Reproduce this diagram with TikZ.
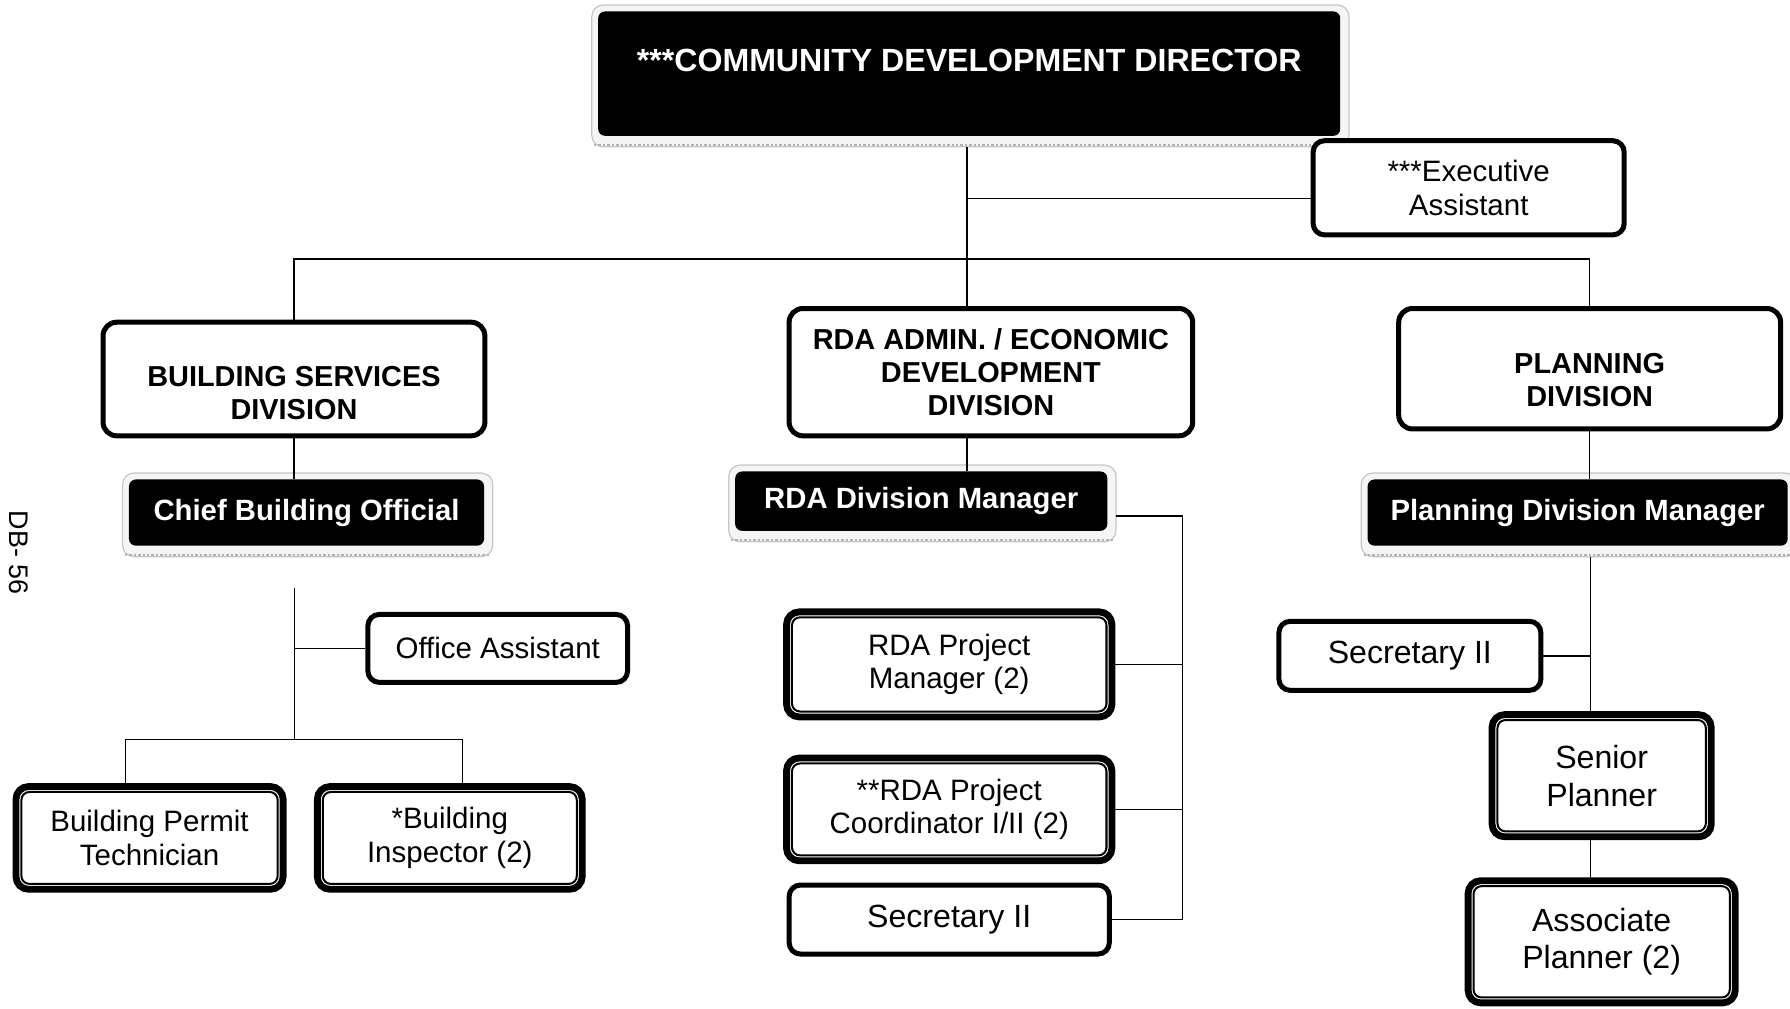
\documentclass[tikz,border=0pt]{standalone}
\usepackage{fontspec}
\setmainfont{Liberation Sans}
\usetikzlibrary{backgrounds}

\begin{document}
\begin{tikzpicture}[x=0.2mm,y=-0.2mm,line width=0.7pt,
  divbox/.style={draw,line width=2.5pt,rounded corners=2.4mm,fill=white,inner sep=0pt},
  divtext/.style={align=center,font=\fontsize{14.4}{16.3}\selectfont\bfseries},
  postbox/.style={draw,line width=2.5pt,rounded corners=2mm,fill=white,align=center,inner sep=0pt,font=\fontsize{14.7}{16.8}\selectfont},
  staffbox/.style={draw,line width=3.4pt,rounded corners=2.2mm,fill=white,align=center,inner sep=0pt,font=\fontsize{14.7}{16.8}\selectfont},
  bigtext/.style={font=\fontsize{16}{18.8}\selectfont},
  headbox/.style={fill=black,text=white,rounded corners=1.2mm,align=center,inner sep=0pt,font=\fontsize{14.6}{16}\selectfont\bfseries},
  headshade/.style={fill=gray!8,draw=gray!45,line width=0.6pt,rounded corners=2mm}]

\useasboundingbox (0,0) rectangle (1568,883);

\node[headbox,minimum width=130mm,minimum height=21.8mm,
  label={[text=white,font=\fontsize{16}{18}\selectfont\bfseries,yshift=2.3mm]center:***COMMUNITY DEVELOPMENT DIRECTOR}] (dir) at (849,64.5) {};
\node[postbox,minimum width=54.5mm,minimum height=16.5mm] (exec) at (1286.5,164.5) {***Executive\\Assistant};

\node[divbox,minimum width=66.9mm,minimum height=19.9mm,
  label={[divtext,yshift=-2.4mm]center:BUILDING SERVICES\\DIVISION}] (bsd) at (257.5,332) {};
\node[divbox,minimum width=70.7mm,minimum height=22.3mm,
  label={[divtext]center:RDA ADMIN. / ECONOMIC\\DEVELOPMENT\\DIVISION}] (rda) at (868,326) {};
\node[divbox,minimum width=66.9mm,minimum height=21.1mm,
  label={[divtext,yshift=-2mm]center:PLANNING\\DIVISION}] (pld) at (1392.5,323) {};

\node[headbox,minimum width=62.2mm,minimum height=11.6mm] (cbo) at (268.5,449) {Chief Building Official};
\node[headbox,minimum width=65.2mm,minimum height=10.4mm] (rdm) at (807,439) {RDA Division Manager};
\node[headbox,minimum width=73.6mm,minimum height=11.6mm] (pdm) at (1382,449) {Planning Division Manager};

\node[postbox,minimum width=45.5mm,minimum height=11.9mm] (ofa) at (436,568) {Office Assistant};
\node[staffbox,minimum width=46.8mm,minimum height=18mm] (bpt) at (131,734) {Building Permit\\Technician};
\node[staffbox,minimum width=46.4mm,minimum height=18mm] (bin) at (394,734) {*Building\\Inspector (2)};

\node[staffbox,minimum width=57mm,minimum height=18.4mm] (rpm) at (831.5,582) {RDA Project\\Manager (2)};
\node[staffbox,minimum width=57mm,minimum height=18mm] (rpc) at (831.5,709) {**RDA Project\\Coordinator I/II (2)};
\node[postbox,bigtext,minimum width=56.1mm,minimum height=12.1mm] (rsec) at (831.5,805.5) {Secretary II};

\node[postbox,bigtext,minimum width=45.9mm,minimum height=12.1mm] (psec) at (1235,574.5) {Secretary II};
\node[staffbox,bigtext,minimum width=38.4mm,minimum height=21.4mm] (spl) at (1403,679.5) {Senior\\Planner};
\node[staffbox,bigtext,minimum width=46.8mm,minimum height=21.4mm] (apl) at (1403,825) {Associate\\Planner (2)};

\node[rotate=-90,font=\fontsize{13.4}{15}\selectfont] (pg) at (16,484) {DB- 56};

\foreach \n in {bpt,bin,rpm,rpc,spl,apl}
  \draw[line width=1pt,rounded corners=1.4mm] ([shift={(4.4pt,-4.4pt)}]\n.north west) rectangle ([shift={(-4.4pt,4.4pt)}]\n.south east);

\begin{scope}[on background layer]
  \foreach \n in {dir,cbo,rdm,pdm} {
    \draw[headshade] ([shift={(-1mm,1mm)}]\n.north west) rectangle ([shift={(1.4mm,-1.8mm)}]\n.south east);
    \draw[gray!60,line width=1.2pt,densely dotted] ([shift={(-0.6mm,-1.5mm)}]\n.south west) -- ([shift={(1mm,-1.5mm)}]\n.south east);
  }
\end{scope}

\coordinate (spine) at (847,0);
\coordinate (bus) at (0,227);
\draw ([yshift=-1.8mm]dir.south -| spine) -- (rda.north -| spine);
\draw ([yshift=-1.9mm]exec.west) -- ([yshift=-1.9mm]exec.west -| spine);
\draw (bsd.north) -- (bsd.north |- bus) -- (pld.north |- bus) -- (pld.north);
\draw (bsd.south) -- (bsd.south |- cbo.north);
\draw (rda.south -| spine) -- (rdm.north -| spine);
\draw (pld.south) -- (pld.south |- pdm.north);

\coordinate (bstem) at (258,515);
\coordinate (bbus) at (258,648);
\draw (bstem) -- (bbus);
\draw (ofa.west) -- (ofa.west -| bbus);
\draw ([xshift=-4.2mm]bpt.north) |- (bbus) -| ([xshift=2.2mm]bin.north);

\coordinate (rbus) at (1036,0);
\draw ([shift={(1.4mm,-2.6mm)}]rdm.east) -| (rsec.east -| rbus) -- (rsec.east);
\foreach \n in {rpm,rpc}
  \draw (\n.east) -- (\n.east -| rbus);

\coordinate (pspine) at (1393,0);
\draw ([yshift=-1.8mm]pdm.south -| pspine) -- (spl.north -| pspine);
\draw (psec.east) -- (psec.east -| pspine);
\draw (spl.south -| pspine) -- (apl.north -| pspine);
\end{tikzpicture}
\end{document}
